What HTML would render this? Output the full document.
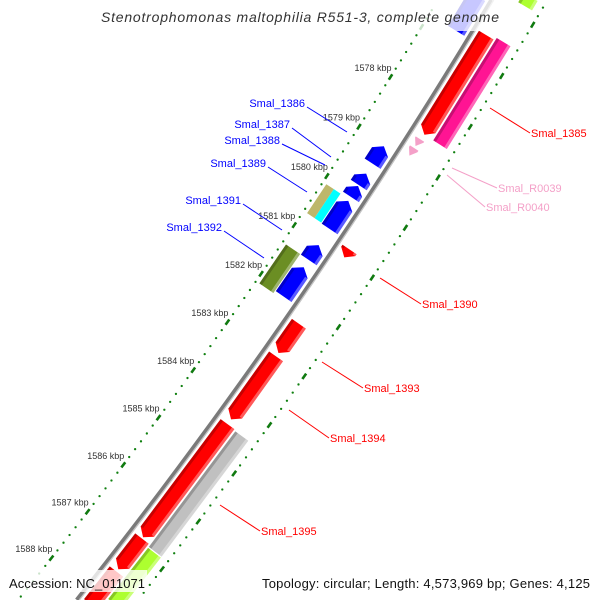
<!DOCTYPE html>
<html><head><meta charset="utf-8"><style>
html,body{margin:0;padding:0;background:#fff;width:600px;height:600px;overflow:hidden;position:relative;}
svg{display:block;font-family:"Liberation Sans",sans-serif;}
</style></head><body>
<svg id="map" style="position:absolute;left:0;top:0" width="600" height="600" viewBox="0 0 600 600"></svg>
<script>
// ---- data ----
const tickKbp = [1574,1575,1576,1577,1578,1579,1580,1581,1582,1583,1584,1585,1586,1587,1588,1589,1590];
const labelKbp = [1578,1579,1580,1581,1582,1583,1584,1585,1586,1587,1588];
const featNames = ["top-blue","top-green","top-lime","Smal_1385","Smal_rrna","Smal_R0039","Smal_R0040","Smal_1386","Smal_1387","Smal_1388","Smal_1389","tan-feature","cyan-feature","Smal_1390","Smal_1391","olive-feature","Smal_1392","Smal_1393","Smal_1394","Smal_1395","red-next-1","red-next-2","gray-feature","lime-feature"];
const featStart = [1575.5,1575.5,1575.5,1576.55,1576.5,1578.62,1578.8,1579.05,1579.6,1579.85,1580.15,1580.12,1580.12,1580.82,1581.05,1581.35,1581.5,1582.33,1583.0,1584.4,1586.8,1587.5,1584.42,1586.86];
const featEnd   = [1576.75,1576.1,1575.8,1578.52,1578.52,1578.76,1578.95,1579.4,1579.83,1580.07,1580.72,1580.71,1580.71,1580.98,1581.35,1582.15,1582.1,1582.93,1584.3,1586.77,1587.45,1588.8,1586.84,1589.5];
const featLane  = ["L1","L2","R2","R1","R2","R1a","R1a","L1","L1","L1","L1","L2o","L2i","R1","L1","L2","L1","R1","R1","R1","R1","R1","R2","R2"];
const featTip   = ["s","n","n","e","n","e","e","s","s","s","s","n","n","e","s","n","s","e","e","e","e","e","n","n"];
const featColor = ["#0000ff","#5d9a1e","#adff2f","#ff0000","#ff1493","#f4a0c8","#f4a0c8","#0000ff","#0000ff","#0000ff","#0000ff","#bdb76b","#00ffff","#ff0000","#0000ff","#6b8e23","#0000ff","#ff0000","#ff0000","#ff0000","#ff0000","#ff0000","#c0c0c0","#adff2f"];
const labelText = ["Smal_1386","Smal_1387","Smal_1388","Smal_1389","Smal_1391","Smal_1392","Smal_1385","Smal_R0039","Smal_R0040","Smal_1390","Smal_1393","Smal_1394","Smal_1395"];
const labelColor= ["#0000ff","#0000ff","#0000ff","#0000ff","#0000ff","#0000ff","#ff0000","#f4a0c8","#f4a0c8","#ff0000","#ff0000","#ff0000","#ff0000"];

// ---- geometry ----
const CX=-4250, CY=-2834, TH0=32.1, DTH=0.616;
const R_TICK_L=5478, R_BACK=5524, R_TICK_R=5572;
const lanes={L1:[5500,5519],L2:[5482,5499],L2o:[5482,5491],L2i:[5491,5499],R1:[5529,5546],R1a:[5531,5541],R2:[5548,5564]};
function pt(k,r){const t=(TH0+(k-1578)*DTH)*Math.PI/180;return [CX+r*Math.cos(t),CY+r*Math.sin(t)];}
function kAtY(y,r){const t=Math.asin((y-CY)/r)*180/Math.PI;return 1578+(t-TH0)/DTH;}
function inside(p){return p[0]>=0&&p[0]<=600&&p[1]>=0&&p[1]<=600;}
const NS="http://www.w3.org/2000/svg";
const svg=document.getElementById('map');
function el(tag,attrs,parent){const e=document.createElementNS(NS,tag);for(const a in attrs)e.setAttribute(a,attrs[a]);(parent||svg).appendChild(e);return e;}
function P(a){return a.map(p=>p[0].toFixed(2)+","+p[1].toFixed(2)).join(" ");}

[R_TICK_L,R_TICK_R].forEach((R,li)=>{
  const g=el('g',{});
  
  
  for(let i=0;i<tickKbp.length-1;i++){
    for(let j=1;j<6;j++){const p=pt(tickKbp[i]+j/6,R);if(p[0]<2||p[0]>598||p[1]<2||p[1]>598)continue;el('circle',{cx:p[0],cy:p[1],r:1.15,fill:'#108010'},g);}
  }
  tickKbp.forEach(k=>{const a=pt(k-0.055,R),b=pt(k+0.055,R);
    if(!inside(a)||!inside(b))return;
    const d=el('line',{x1:a[0],y1:a[1],x2:b[0],y2:b[1],stroke:'#107a10','stroke-width':2.6},g);
    
    
  });
});
labelKbp.forEach(k=>{const p=pt(k,R_TICK_L);
  const t=el('text',{x:p[0]+1,y:p[1]-6,'text-anchor':'end','font-size':9,fill:'#333'});
  t.textContent=k+" kbp";
  
  
});
{const mk=r=>{const a=[];const k0=kAtY(0,r),k1=kAtY(600,r);for(let k=k0;k<k1;k+=0.5)a.push(pt(k,r));a.push(pt(k1,r));return a;};
 const b1=el('polyline',{points:P(mk(R_BACK)),fill:'none',stroke:'#7a7a7a','stroke-width':4.5});
 
 
 el('polyline',{points:P(mk(R_BACK+1.8)),fill:'none',stroke:'#c4c4c4','stroke-width':1.3});
}
featNames.forEach((n,i)=>{
  const [r1,r2]=lanes[featLane[i]];const rm=(r1+r2)/2;
  let tip=featTip[i];
  let s=featStart[i],e=featEnd[i];
  const smin=kAtY(0,r2)+0.02, emax=kAtY(600,r1)-0.02;
  if(s<smin){s=smin;if(tip==='s')tip='n';}
  if(e>emax){e=emax;if(tip==='e')tip='n';}
  if(e<=s)return;
  const h=Math.min(0.12,(e-s));let pts;
  if(tip==='e')pts=[pt(s,r1),pt(e-h,r1),pt(e,rm),pt(e-h,r2),pt(s,r2)];
  else if(tip==='s')pts=[pt(e,r1),pt(s+h,r1),pt(s,rm),pt(s+h,r2),pt(e,r2)];
  else pts=[pt(s,r1),pt(e,r1),pt(e,r2),pt(s,r2)];
  const g=el('g',{});
  
  
  el('polygon',{points:P(pts),fill:featColor[i]},g);
  const w=r2-r1;if(w>12){
    const s2=tip==='s'?s+h:s, e2=tip==='e'?e-h:e;
    el('polygon',{points:P([pt(s2,r1),pt(e2,r1),pt(e2,r1+3),pt(s2,r1+3)]),fill:'#000','fill-opacity':0.22},g);
    el('polygon',{points:P([pt(s2,r2-3),pt(e2,r2-3),pt(e2,r2),pt(s2,r2)]),fill:'#fff','fill-opacity':0.35},g);
  }
});
const lx1=[307,292,282,268,243,224,490,452,447,380,322,289,220];
const ly1=[107,128,144,167,204,231,108,168,175,278,362,410,505];
const lx2=[347,331,325,307,282,264,530,497,485,421,363,329,260];
const ly2=[132,157,165,192,230,258,133,188,207,304,388,438,531];
labelText.forEach((t,i)=>{
  const left=i<6;
  const ln=el('line',{x1:lx1[i],y1:ly1[i],x2:lx2[i],y2:ly2[i],stroke:labelColor[i],'stroke-width':1});
  
  
  const tx=el('text',{x:left?lx1[i]-2:lx2[i]+1,y:left?ly1[i]:ly2[i]+4,'text-anchor':left?'end':'start','font-size':11,fill:labelColor[i]});
  tx.textContent=t;
  
  
});
</script>
<svg style="position:absolute;left:0;top:0" width="600" height="600">
  <rect x="95" y="0" width="415" height="31" fill="#fff" fill-opacity="0.78"/>
  <text x="300" y="22" text-anchor="middle" font-style="italic" font-size="14" fill="#333" textLength="398" font-family="Liberation Sans, sans-serif">Stenotrophomonas maltophilia R551-3, complete genome</text>
  <rect x="5" y="570" width="142" height="22" fill="#fff" fill-opacity="0.78"/>
  <text x="9" y="588" font-size="13" fill="#111" textLength="136" font-family="Liberation Sans, sans-serif">Accession: NC_011071</text>
  <text x="262" y="588" font-size="13" fill="#111" textLength="328" font-family="Liberation Sans, sans-serif">Topology: circular; Length: 4,573,969 bp; Genes: 4,125</text>
</svg>
</body></html>
